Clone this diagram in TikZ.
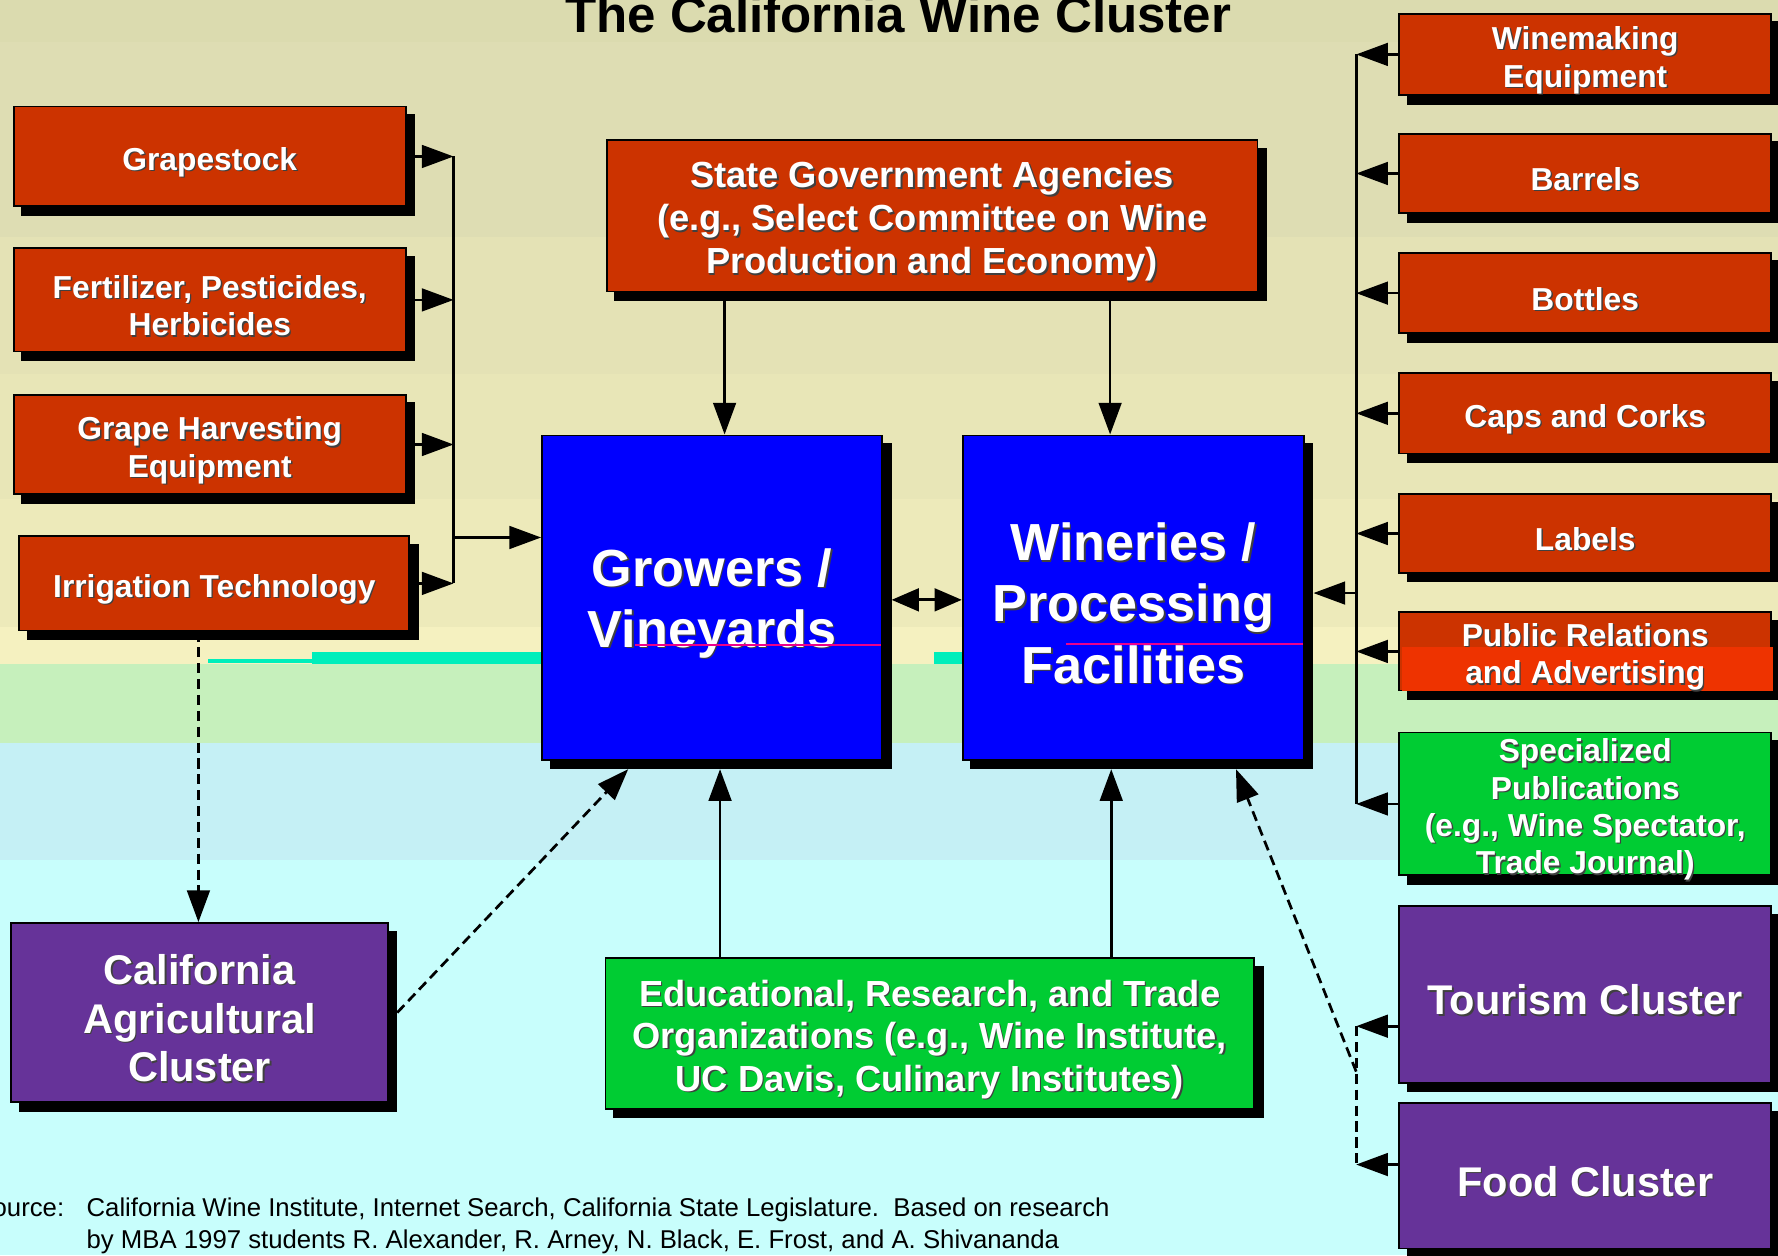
\documentclass[tikz,border=0pt]{standalone}
\usepackage{fontspec}
\setmainfont{Liberation Sans}
\usetikzlibrary{arrows.meta,calc}
\definecolor{cred}{HTML}{CC3300}
\definecolor{cred2}{HTML}{EE3300}
\definecolor{cblue}{HTML}{0000FF}
\definecolor{cpurp}{HTML}{663399}
\definecolor{cgreen}{HTML}{00CC33}
\definecolor{bga}{HTML}{DBDBAF}
\definecolor{bgb}{HTML}{DEDDB3}
\definecolor{bgc}{HTML}{E4E2B5}
\definecolor{bgd}{HTML}{E8E6B7}
\definecolor{bge}{HTML}{EDEABA}
\definecolor{bgf}{HTML}{F5F1C0}
\definecolor{bgg}{HTML}{C6F0BC}
\definecolor{bgh}{HTML}{C5F0F5}
\definecolor{bgi}{HTML}{C8FEFC}
\definecolor{glitchc}{HTML}{00EEBB}
\newcommand\fA{\bfseries\fontsize{14}{16.5}\selectfont}
\newcommand\fB{\bfseries\fontsize{16}{19}\selectfont}
\newcommand\fC{\bfseries\fontsize{23}{27}\selectfont}
\newcommand\fD{\bfseries\fontsize{18.3}{21.5}\selectfont}
\newcommand\fE{\bfseries\fontsize{16}{18.75}\selectfont}
\newcommand\clbox[7]{%
  \node[cbox, fill=#1, minimum width=#4, minimum height=#5] (#2) at (#3) {};
  \node[tsh, font=#6] at ([shift={(0.6pt,-3.1pt)}]#2.center) {#7};
  \node[tw, font=#6] at ([yshift=-2.5pt]#2.center) {#7};
}
\tikzset{
  cbox/.style={draw=black, line width=0.8pt, inner sep=0pt,
    preaction={fill=black, draw=black, transform canvas={shift={(3.75pt,-3.75pt)}}}},
  tsh/.style={text=black!75, align=center, inner sep=0pt},
  tw/.style={text=white, align=center, inner sep=0pt},
  ln/.style={line width=1.2pt, black},
  arr/.style={ln, -{Triangle[length=14pt,width=10pt]}},
  darr/.style={ln, {Triangle[length=12pt,width=10pt]}-{Triangle[length=12pt,width=10pt]}},
  dline/.style={ln, dash pattern=on 4.5pt off 2.5pt},
  darrow/.style={dline, -{Triangle[length=14pt,width=10pt]}},
}
\begin{document}
\begin{tikzpicture}[x=0.5pt,y=-0.5pt]
\useasboundingbox (0,0) rectangle (1568,1107);
\clip (0,0) rectangle (1568,1107);
% background bands
\fill[bga] (0,0) rectangle (1568,37);
\fill[bgb] (0,37) rectangle (1568,209);
\fill[bgc] (0,209) rectangle (1568,330);
\fill[bgd] (0,330) rectangle (1568,440);
\fill[bge] (0,440) rectangle (1568,553);
\fill[bgf] (0,553) rectangle (1568,586);
\fill[bgg] (0,586) rectangle (1568,655);
\fill[bgh] (0,655) rectangle (1568,758);
\fill[bgi] (0,758) rectangle (1568,1107);
% scan glitches
\fill[glitchc] (275,575) rectangle (478,586);
\fill[glitchc] (183,581) rectangle (275,585);
\fill[glitchc] (824,575) rectangle (849,586);
% title
\node[anchor=base, font=\bfseries\fontsize{22.5}{27}\selectfont, inner sep=0pt] (title) at (792,29) {The California Wine Cluster};
% left boxes
\clbox{cred}{grape}{185,138}{173pt}{44pt}{\fA}{Grapestock}
\clbox{cred}{fert}{185,264.5}{173pt}{45.5pt}{\fA}{Fertilizer, Pesticides,\\Herbicides}
\clbox{cred}{harv}{185,392}{173pt}{44pt}{\fA}{Grape Harvesting\\Equipment}
\clbox{cred}{irr}{189,514.5}{172pt}{41.5pt}{\fA}{Irrigation Technology}
% centre
\clbox{cred}{gov}{822,190.25}{287pt}{66.75pt}{\fB}{State Government Agencies\\(e.g., Select Committee on Wine\\Production and Economy)}
\clbox{cblue}{grow}{628,527}{150pt}{143pt}{\fC}{Growers /\\Vineyards}
\clbox{cblue}{wine}{999.5,527}{150.5pt}{143pt}{\fC}{Wineries /\\Processing\\Facilities}
\clbox{cgreen}{edu}{820,911.5}{286pt}{66.5pt}{\fE}{Educational, Research, and Trade\\Organizations (e.g., Wine Institute,\\UC Davis, Culinary Institutes)}
\clbox{cpurp}{calag}{176,893}{166pt}{79pt}{\fD}{California\\Agricultural\\Cluster}
% right boxes
\clbox{cred}{wm}{1398,48}{164pt}{36pt}{\fA}{Winemaking\\Equipment}
\clbox{cred}{bar}{1398,153}{164pt}{35pt}{\fA}{Barrels}
\clbox{cred}{bot}{1398,258.5}{164pt}{35.5pt}{\fA}{Bottles}
\clbox{cred}{caps}{1398,364.5}{164pt}{35.5pt}{\fA}{Caps and Corks}
\clbox{cred}{lab}{1398,470.5}{164pt}{34.5pt}{\fA}{Labels}
\node[cbox, fill=cred, minimum width=164pt, minimum height=34.5pt] (pr) at (1398,574.5) {};
\fill[cred2] (1236,571) rectangle (1564,609);
\node[tsh, font=\fA] at ([shift={(0.6pt,-3.1pt)}]pr.center) {Public Relations\\and Advertising};
\node[tw, font=\fA] at ([yshift=-2.5pt]pr.center) {Public Relations\\and Advertising};
\clbox{cgreen}{spec}{1398,709}{164pt}{63pt}{\fA}{Specialized\\Publications\\(e.g., Wine Spectator,\\Trade Journal)}
\clbox{cpurp}{tour}{1398,877}{164pt}{78pt}{\fD}{Tourism Cluster}
\clbox{cpurp}{food}{1398,1037}{164pt}{64pt}{\fD}{Food Cluster}
% glitch lines in blue boxes
\draw[magenta, line width=0.7pt] (560,569) -- (777,569);
\draw[magenta, line width=0.7pt] (940,568) -- (1149,568);
% helper coordinates
\coordinate (lb) at (400,0);
\coordinate (rb) at (1196,0);
\coordinate (lj) at (400,474);
\coordinate (rj) at (1196,523);
\coordinate (mid) at (0,529);
\coordinate (growE) at ([xshift=3.75pt]grow.east);
\coordinate (wineE) at ([xshift=3.75pt]wine.east);
\coordinate (growB) at ([yshift=-3.75pt]grow.south);
\coordinate (wineB) at ([yshift=-3.75pt]wine.south);
\coordinate (gx1) at (639,0);
\coordinate (gx2) at (979,0);
\coordinate (ex1) at (635,0);
\coordinate (ex2) at (980,0);
\coordinate (ix) at (175,0);
\coordinate (caE) at ([xshift=3.75pt]calag.east);
\coordinate (gtip) at (554,0);
\coordinate (wtip) at (1090,0);
\coordinate (ty) at (0,905);
\coordinate (fy) at (0,1027);
\coordinate (dj) at (1196,945);
% left bus
\draw[ln] (grape.east -| lb) -- (irr.east -| lb);
\foreach \n in {grape,fert,harv,irr} \draw[arr] (\n.east) -- (\n.east -| lb);
\draw[arr] (lj) -- (lj -| grow.west);
% right bus
\draw[ln] (wm.west -| rb) -- (spec.west -| rb);
\foreach \n in {wm,bar,bot,caps,lab,pr,spec} \draw[arr] (\n.west) -- (\n.west -| rb);
\draw[arr] (rj) -- (wineE |- rj);
% government and education
\draw[arr] (gov.south -| gx1) -- (grow.north -| gx1);
\draw[arr] (gov.south -| gx2) -- (wine.north -| gx2);
\draw[arr] (edu.north -| ex1) -- (growB -| ex1);
\draw[arr] (edu.north -| ex2) -- (wineB -| ex2);
% growers <-> wineries
\draw[darr] (growE |- mid) -- (wine.west |- mid);
% dashed links
\draw[darrow] (irr.south -| ix) -- (calag.north -| ix);
\draw[darrow] (caE) -- (growB -| gtip);
\draw[arr] (tour.west |- ty) -- (rb |- ty);
\draw[arr] (food.west |- fy) -- (rb |- fy);
\draw[dline] (rb |- ty) -- (rb |- fy);
\draw[darrow] (dj) -- (wineB -| wtip);
% source
\node[anchor=base east, font=\fontsize{11.35}{13.5}\selectfont, inner sep=0pt] (src) at (57,1073) {Source:};
\node[anchor=base west, font=\fontsize{11.35}{13.5}\selectfont, inner sep=0pt] (src1) at (76,1073) {California Wine Institute, Internet Search, California State Legislature.\ \ Based on research};
\node[anchor=base west, font=\fontsize{11.35}{13.5}\selectfont, inner sep=0pt] (src2) at (76,1101) {by MBA 1997 students R. Alexander, R. Arney, N. Black, E. Frost, and A. Shivananda};
\end{tikzpicture}
\end{document}
